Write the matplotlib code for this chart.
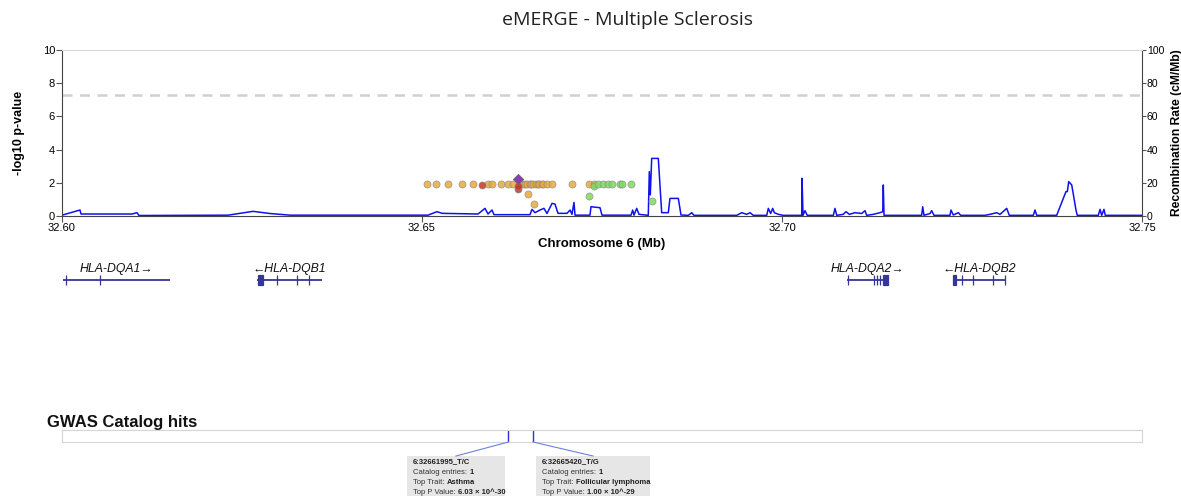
import matplotlib
matplotlib.use("Agg")
import matplotlib.pyplot as plt
from matplotlib.lines import Line2D
from matplotlib.patches import Rectangle

plt.rcParams['font.family'] = ['Liberation Sans', 'DejaVu Sans']

W, H = 1181, 496

# ---- data ----
title = "eMERGE - Multiple Sclerosis"

# SNPs grouped by LD colour (position in Mb, -log10 p)
orange_pos = [32.65069, 32.65194, 32.65361, 32.65556, 32.65708, 32.65917, 32.65972,
              32.66097, 32.66190, 32.66264, 32.66371, 32.66407, 32.66430, 32.66454,
              32.66500, 32.66520, 32.66546, 32.66583, 32.66605, 32.66629, 32.66660,
              32.66685, 32.66732, 32.66801, 32.66476, 32.66560, 32.67079, 32.67319,
              32.67389]
orange_p = [1.9, 1.9, 1.9, 1.9, 1.9, 1.9, 1.9,
            1.9, 1.9, 1.9, 1.9, 1.9, 1.9, 1.9,
            1.9, 1.9, 1.9, 1.9, 1.9, 1.9, 1.9,
            1.9, 1.9, 1.9, 1.3, 0.7, 1.9, 1.9,
            1.9]
red_pos = [32.65829, 32.66337, 32.66330]
red_p = [1.85, 1.6, 1.8]
green_pos = [32.67319, 32.67385, 32.67449, 32.67510, 32.67587, 32.67635, 32.67750,
             32.67774, 32.67899, 32.68199]
green_p = [1.2, 1.8, 1.9, 1.9, 1.9, 1.9, 1.9, 1.9, 1.9, 0.9]
lead_pos = [32.66337]
lead_p = [2.2]

# recombination rate (cM/Mb)
recomb_pos = [32.60000, 32.60250, 32.60264, 32.60972, 32.61042, 32.61069, 32.62306,
              32.62653, 32.62889, 32.63167, 32.65083, 32.65208, 32.65278, 32.65778,
              32.65847, 32.65875, 32.65917, 32.65972, 32.66000, 32.66500, 32.66528,
              32.66569, 32.66639, 32.66694, 32.66736, 32.66806, 32.66847, 32.66889,
              32.67014, 32.67056, 32.67083, 32.67111, 32.67125, 32.67333, 32.67347,
              32.67472, 32.67500, 32.67903, 32.67926, 32.67944, 32.67982, 32.68014,
              32.68143, 32.68157, 32.68171, 32.68190, 32.68282, 32.68329, 32.68421,
              32.68444, 32.68560, 32.68597, 32.68699, 32.68746, 32.68778, 32.69371,
              32.69440, 32.69510, 32.69556, 32.69601, 32.69788, 32.69810, 32.69843,
              32.69871, 32.69893, 32.69949, 32.70018, 32.70274, 32.70278, 32.70292,
              32.70319, 32.70351, 32.70713, 32.70736, 32.70760, 32.70851, 32.70889,
              32.70935, 32.71014, 32.71107, 32.71153, 32.71176, 32.71268, 32.71361,
              32.71399, 32.71407, 32.71417, 32.71940, 32.71954, 32.71972, 32.72056,
              32.72079, 32.72111, 32.72333, 32.72347, 32.72379, 32.72449, 32.72482,
              32.72819, 32.72889, 32.72982, 32.73028, 32.73121, 32.73157, 32.73490,
              32.73514, 32.73538, 32.73815, 32.73907, 32.73944, 32.73963, 32.73982,
              32.74024, 32.74083, 32.74101, 32.74393, 32.74417, 32.74440, 32.74472,
              32.74490, 32.75000]
recomb_rate = [0.5, 3.6, 1.2, 1.2, 2.0, 0.3, 0.5,
               2.8, 1.5, 0.5, 0.5, 2.6, 1.6, 1.2,
               3.6, 4.6, 1.2, 3.6, 0.8, 0.8, 4.0,
               2.0, 3.6, 4.6, 1.5, 7.6, 7.2, 1.6,
               1.6, 3.6, 1.0, 8.2, 0.5, 0.5, 5.6,
               5.0, 0.5, 0.5, 3.6, 0.5, 4.6, 1.0,
               0.4, 26.7, 12.7, 34.7, 34.7, 2.0, 2.0,
               10.6, 10.6, 0.6, 0.4, 2.0, 0.4, 0.4,
               2.0, 1.0, 2.0, 0.4, 0.4, 4.6, 1.5,
               4.6, 2.0, 1.0, 0.4, 0.4, 22.7, 0.4,
               3.2, 0.4, 0.4, 4.6, 0.4, 1.0, 2.6,
               1.0, 2.0, 1.5, 3.2, 0.4, 1.0, 2.0,
               2.6, 18.7, 0.4, 0.4, 5.6, 0.4, 1.5,
               3.2, 0.4, 0.4, 3.6, 0.6, 2.0, 0.4,
               0.4, 1.0, 2.0, 1.0, 4.6, 0.4, 0.4,
               3.6, 0.4, 0.4, 10.6, 14.7, 14.7, 20.7,
               18.7, 3.6, 0.4, 0.4, 4.0, 0.4, 4.0,
               0.4, 0.4]

# genes
gene_names = ["HLA-DQA1\u2192", "\u2190HLA-DQB1", "HLA-DQA2\u2192", "\u2190HLA-DQB2"]
gene_start = [32.60014, 32.62708, 32.70903, 32.72375]
gene_end = [32.61500, 32.63611, 32.71472, 32.73097]
gene_exons = [
    [(32.60050, 32.60062), (32.60522, 32.60534)],
    [(32.62722, 32.62792), (32.62980, 32.62992), (32.63258, 32.63270), (32.63425, 32.63437)],
    [(32.70911, 32.70923), (32.71272, 32.71284), (32.71313, 32.71325), (32.71355, 32.71367),
     (32.71403, 32.71472)],
    [(32.72375, 32.72417), (32.72494, 32.72506), (32.72647, 32.72659), (32.72925, 32.72937),
     (32.73091, 32.73103)],
]

# GWAS catalog hits
hit_pos = [32.66200, 32.66542]
hit_ids = ["6:32661995_T/C", "6:32665420_T/G"]
hit_entries = ["1", "1"]
hit_traits = ["Asthma", "Follicular lymphoma"]
hit_pvals = ["6.03 \u00d7 10^-30", "1.00 \u00d7 10^-29"]

xticks = [32.60, 32.65, 32.70, 32.75]

# ---- figure ----
def fx(px):
    return px / W

def fy(py):
    return 1 - py / H

fig = plt.figure(figsize=(W / 100, H / 100), dpi=100)
fig.text(fx(628), fy(20), title, ha='center', va='center', fontsize=14,
         family=['Open Sans', 'DejaVu Sans'], color='#222222')

ax = fig.add_axes([fx(62), fy(216), fx(1080), 166 / H])
ax.set_xlim(32.60, 32.75)
ax.set_ylim(0, 10)
ax.set_yticks([0, 2, 4, 6, 8, 10])
ax.set_xticks(xticks)
ax.set_xticklabels([f"{t:.2f}" for t in xticks])
ax.tick_params(labelsize=8, length=4, width=0.8, color='#555555', pad=1)
ax.spines['top'].set_color('#D8D8D8')
ax.spines['right'].set_visible(False)
ax.spines['left'].set_color('#444444')
ax.spines['bottom'].set_color('#444444')
ax.set_xlabel("Chromosome 6 (Mb)", fontsize=9.5, fontweight='bold', labelpad=4)
ax.set_ylabel("-log10 p-value", fontsize=9, fontweight='bold')
ax.yaxis.set_label_coords(-0.034, 0.5)

ax.axhline(7.301, color='#D0D0D0', lw=1.8, ls=(0, (4, 3)), zorder=1)

ax2 = ax.twinx()
ax2.set_ylim(0, 100)
ax2.set_yticks([0, 20, 40, 60, 80, 100])
ax2.tick_params(labelsize=7.5, length=3, width=0.8, color='#555555', pad=0.5)
for s in ['top', 'left', 'bottom']:
    ax2.spines[s].set_visible(False)
ax2.spines['right'].set_color('#444444')
ax2.set_ylabel("Recombination Rate (cM/Mb)", fontsize=8.7, fontweight='bold')
ax2.yaxis.set_label_coords(1.027, 0.5)
ax2.plot(recomb_pos, recomb_rate, color='#1010F0', lw=1.1, zorder=2)

# put scatter above the line
ax.set_zorder(ax2.get_zorder() + 1)
ax.patch.set_visible(False)
kw = dict(s=26, edgecolors='#8a8a8a', linewidths=0.5, alpha=0.85, zorder=3)
ax.scatter(orange_pos, orange_p, color='#E8A93A', **kw)
ax.scatter(green_pos, green_p, color='#7DDB5E', **kw)
ax.scatter(red_pos, red_p, color='#C8361F', **kw)
ax.scatter(lead_pos, lead_p, color='#8E3BB5', marker='D', s=28, edgecolors='#666666',
           linewidths=0.5, zorder=4)

# gene track
gax = fig.add_axes([fx(62), fy(295), fx(1080), 40 / H])
gax.set_xlim(32.60, 32.75)
gax.set_ylim(0, 1)
gax.axis('off')
gene_color = '#35359A'
for name, s, e, exons in zip(gene_names, gene_start, gene_end, gene_exons):
    gax.plot([s, e], [0.375, 0.375], color=gene_color, lw=1.3, solid_capstyle='butt')
    for a, b in exons:
        gax.add_patch(Rectangle((a, 0.24), b - a, 0.27, facecolor=gene_color,
                                edgecolor=gene_color, lw=0.9))
    gax.text((s + e) / 2, 0.66, name, ha='center', va='center', fontsize=8.8,
             style='italic', color='#111111')

# GWAS catalog track
fig.text(fx(47), fy(423), "GWAS Catalog hits", ha='left', va='center', fontsize=12,
         fontweight='bold', color='#111111')
cax = fig.add_axes([fx(62), fy(442), fx(1080), 12 / H])
cax.set_xlim(32.60, 32.75)
cax.set_ylim(0, 1)
cax.set_xticks([])
cax.set_yticks([])
for s in cax.spines.values():
    s.set_color('#D5D5D5')
    s.set_linewidth(0.8)
for p in hit_pos:
    cax.plot([p, p], [0, 1], color='#3030D0', lw=1.0)

# tooltips
box_left = [407, 536]
box_right = [505, 650]
renderer = fig.canvas.get_renderer()
inv = fig.transFigure.inverted()
for i, p in enumerate(hit_pos):
    x0, x1 = box_left[i], box_right[i]
    fig.add_artist(Rectangle((fx(x0), 0), fx(x1 - x0), fy(456), transform=fig.transFigure,
                             facecolor='#E6E6E6', edgecolor='none'))
    hx = inv.transform(cax.transData.transform((p, 0)))
    fig.add_artist(Line2D([hx[0], fx((x0 + x1) / 2)], [hx[1], fy(456)],
                          transform=fig.transFigure, color='#6F7FE0', lw=0.8))
    tx = fx(x0 + 6)
    fig.text(tx, fy(462), hit_ids[i], fontsize=5.5, fontweight='bold', va='center',
             color='#222222')
    rows = [("Catalog entries: ", hit_entries[i]), ("Top Trait: ", hit_traits[i]),
            ("Top P Value: ", hit_pvals[i])]
    for j, (lab, val) in enumerate(rows):
        yy = fy(472 + 10 * j)
        t = fig.text(tx, yy, lab, fontsize=5.5, va='center', color='#333333')
        bb = t.get_window_extent(renderer)
        fig.text(bb.x1 / fig.bbox.width, yy, val, fontsize=5.5, va='center',
                 fontweight='bold', color='#222222')

fig.savefig("out.png", dpi=100)
